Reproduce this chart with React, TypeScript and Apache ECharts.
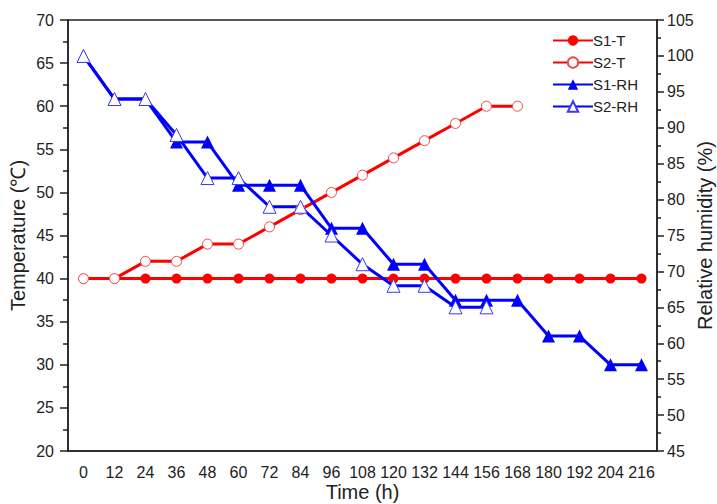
import React, { useEffect, useRef } from "react";
import * as echarts from "echarts";

const timeLabels = ["0", "12", "24", "36", "48", "60", "72", "84", "96", "108", "120", "132", "144", "156", "168", "180", "192", "204", "216"];
const s1T = [40, 40, 40, 40, 40, 40, 40, 40, 40, 40, 40, 40, 40, 40, 40, 40, 40, 40, 40];
const s2T = [40, 40, 42, 42, 44, 44, 46, 48, 50, 52, 54, 56, 58, 60, 60, null, null, null, null];
const s1RH = [100, 94, 94, 88, 88, 82, 82, 82, 76, 76, 71, 71, 66, 66, 66, 61, 61, 57, 57];
const s2RH = [100, 94, 94, 89, 83, 83, 79, 79, 75, 71, 68, 68, 65, 65, null, null, null, null, null];

const RED = "#ff0000";
const BLUE = "#0000ff";
const FONT = "Liberation Sans, Arial, sans-serif";
const TXT = "#222";

export default function App() {
  const ref = useRef<HTMLDivElement>(null);
  useEffect(() => {
    if (!ref.current) return;
    const chart = echarts.init(ref.current, undefined, { renderer: "svg" });
    chart.setOption({
      animation: false,
      backgroundColor: "#fff",
      textStyle: { fontFamily: FONT },
      grid: {
        left: 68, right: 60, top: 20, bottom: 53,
        containLabel: false,
        outerBoundsMode: "none",
        show: true, borderColor: TXT, borderWidth: 1.5, backgroundColor: "transparent",
      },
      legend: {
        orient: "vertical",
        left: 547,
        top: 28,
        itemWidth: 40,
        itemHeight: 13,
        itemGap: 7,
        textStyle: { fontFamily: FONT, fontSize: 15, color: TXT, padding: [0, 0, 0, -5] },
        data: ["S1-T", "S2-T", "S1-RH", "S2-RH"],
      },
      xAxis: {
        type: "category",
        data: timeLabels,
        boundaryGap: true,
        name: "Time (h)",
        nameLocation: "middle",
        nameGap: 30,
        nameMoveOverlap: false,
        nameTextStyle: { fontFamily: FONT, fontSize: 20, lineHeight: 22, color: TXT, verticalAlign: "top" },
        axisLine: { lineStyle: { color: TXT, width: 1.5 } },
        axisTick: { alignWithLabel: true, interval: 0, length: 7, lineStyle: { color: TXT, width: 1.5 } },
        axisLabel: { interval: 0, fontFamily: FONT, fontSize: 16, color: TXT, margin: 13 },
        splitLine: { show: false },
      },
      yAxis: [
        {
          type: "value",
          min: 20,
          max: 70,
          interval: 5,
          name: "Temperature (\u2103)",
          nameLocation: "middle",
          nameRotate: 90,
          nameGap: 40,
          nameMoveOverlap: false,
          nameTextStyle: { fontFamily: FONT, fontSize: 20, color: TXT },
          axisLine: { show: true, lineStyle: { color: TXT, width: 1.5 } },
          axisTick: { show: true, length: 8, lineStyle: { color: TXT, width: 1.5 } },
          minorTick: { show: true, splitNumber: 2, length: 5, lineStyle: { color: TXT, width: 1.5 } },
          axisLabel: { fontFamily: FONT, fontSize: 16, color: TXT, margin: 14 },
          splitLine: { show: false },
        },
        {
          type: "value",
          min: 45,
          max: 105,
          interval: 5,
          position: "right",
          name: "Relative humidity (%)",
          nameLocation: "middle",
          nameRotate: 90,
          nameGap: 38,
          nameMoveOverlap: false,
          nameTextStyle: { fontFamily: FONT, fontSize: 20, color: TXT },
          axisLine: { show: true, lineStyle: { color: TXT, width: 1.5 } },
          axisTick: { show: true, length: 7, lineStyle: { color: TXT, width: 1.5 } },
          minorTick: { show: true, splitNumber: 2, length: 4, lineStyle: { color: TXT, width: 1.5 } },
          axisLabel: { fontFamily: FONT, fontSize: 16, color: TXT, margin: 10 },
          splitLine: { show: false },
        },
      ],
      series: [
        {
          name: "S1-T",
          type: "line",
          yAxisIndex: 0,
          data: s1T,
          symbol: "circle",
          symbolSize: 10,
          showAllSymbol: true,
          lineStyle: { color: RED, width: 3 },
          itemStyle: { color: RED },
        },
        {
          name: "S2-T",
          type: "line",
          yAxisIndex: 0,
          data: s2T,
          symbol: "circle",
          symbolSize: 10,
          showAllSymbol: true,
          lineStyle: { color: RED, width: 3 },
          itemStyle: { color: "#fff", borderColor: "#f04848", borderWidth: 1 },
        },
        {
          name: "S1-RH",
          type: "line",
          yAxisIndex: 1,
          data: s1RH,
          symbol: "triangle",
          symbolSize: 13,
          showAllSymbol: true,
          lineStyle: { color: BLUE, width: 3 },
          itemStyle: { color: BLUE },
        },
        {
          name: "S2-RH",
          type: "line",
          yAxisIndex: 1,
          data: s2RH,
          symbol: "triangle",
          symbolSize: 13,
          showAllSymbol: true,
          lineStyle: { color: BLUE, width: 3 },
          itemStyle: { color: "#fff", borderColor: "#3a3af0", borderWidth: 1 },
        },
      ],
    });
    return () => chart.dispose();
  }, []);
  return <div ref={ref} style={{ width: 717, height: 504, position: "absolute", left: 0, top: 0 }} />;
}
